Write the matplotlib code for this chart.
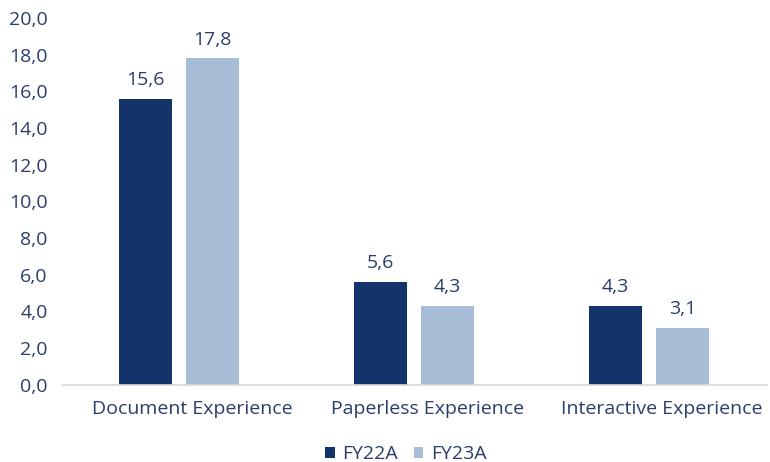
import matplotlib
matplotlib.use('Agg')
import matplotlib.pyplot as plt
import matplotlib.transforms as mtransforms
import numpy as np

categories = ['Document Experience', 'Paperless Experience', 'Interactive Experience']
fy22a = [15.6, 5.6, 4.3]
fy23a = [17.8, 4.3, 3.1]
series_names = ['FY22A', 'FY23A']

DARK = '#14336a'
LIGHT = '#a7bcd5'
TEXT = '#2b3d6b'

plt.rcParams['font.family'] = ['Open Sans', 'DejaVu Sans']

fig = plt.figure(figsize=(7.7, 4.62), dpi=100)
ax = fig.add_axes([0.08, 0.167, 0.9155, 0.794])

x = np.arange(len(categories))
w = 0.225
off = 0.1425
b1 = ax.bar(x - off, fy22a, w, color=DARK, label=series_names[0])
b2 = ax.bar(x + off, fy23a, w, color=LIGHT, label=series_names[1])

def fmt(v):
    return f'{v:.1f}'.replace('.', ',')

for bars, vals in ((b1, fy22a), (b2, fy23a)):
    for r, v in zip(bars, vals):
        ax.annotate(fmt(v), (r.get_x() + r.get_width() / 2, v),
                    xytext=(0, 7), textcoords='offset points',
                    ha='center', va='bottom', fontsize=14, color=TEXT)

ax.set_xlim(-0.5, 2.5)
ax.set_ylim(0, 20)
ax.set_yticks(np.arange(0, 21, 2))
ax.set_yticklabels([fmt(v) for v in np.arange(0, 21, 2)])
ax.set_xticks(x)
ax.set_xticklabels(categories)
ax.tick_params(axis='both', length=0, labelsize=14, labelcolor=TEXT)
ax.tick_params(axis='x', pad=11)
ax.tick_params(axis='y', pad=10)
# category labels sit a little right of the bar pairs in the original
shift = mtransforms.ScaledTranslation(13 / 100, 0, fig.dpi_scale_trans)
for lbl in ax.get_xticklabels():
    lbl.set_transform(lbl.get_transform() + shift)
for s in ('top', 'right', 'left'):
    ax.spines[s].set_visible(False)
ax.spines['bottom'].set_color('#d9d9d9')
ax.spines['bottom'].set_linewidth(1.2)

leg = fig.legend(handles=[b1, b2], loc='lower center', bbox_to_anchor=(0.527, -0.04),
                 ncol=2, frameon=False, fontsize=14, handlelength=0.5, handleheight=0.5,
                 handletextpad=0.4, columnspacing=0.8)
for t in leg.get_texts():
    t.set_color(TEXT)

fig.savefig('out.png', dpi=100)
